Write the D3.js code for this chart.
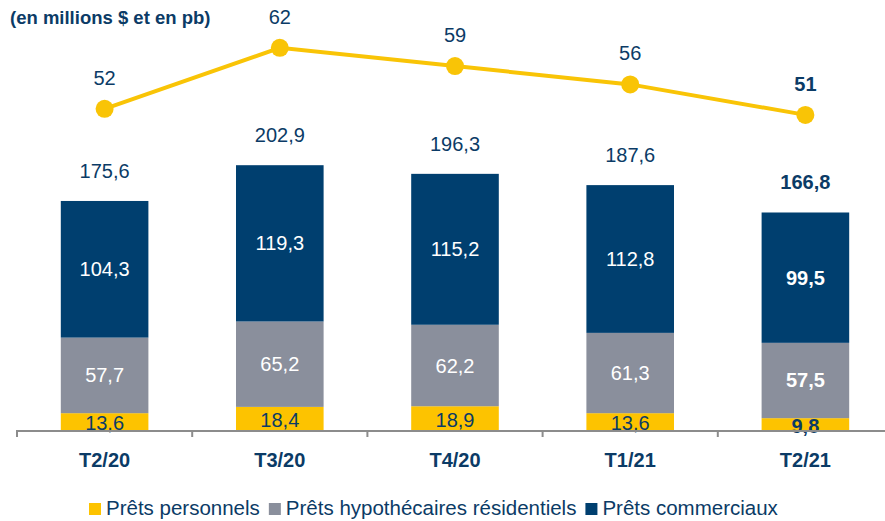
<!DOCTYPE html>
<html>
<head>
<meta charset="utf-8">
<script src="https://cdn.jsdelivr.net/npm/d3@7"></script>
<style>
  body { margin: 0; background: #fff; }
  text { font-family: "Liberation Sans", Arial, sans-serif; }
</style>
</head>
<body>
<svg id="chart" width="885" height="521"></svg>
<script>
// data
const categories = ["T2/20", "T3/20", "T4/20", "T1/21", "T2/21"];
const personnels = [13.6, 18.4, 18.9, 13.6, 9.8];
const hypothecaires = [57.7, 65.2, 62.2, 61.3, 57.5];
const commerciaux = [104.3, 119.3, 115.2, 112.8, 99.5];
const totals = [175.6, 202.9, 196.3, 187.6, 166.8];
const pb = [52, 62, 59, 56, 51];
const seriesNames = ["Prêts personnels", "Prêts hypothécaires résidentiels", "Prêts commerciaux"];

const navy = "#003F6F";
const gray = "#8A8F9C";
const yellow = "#FDC300";
const textCol = "#0B3B66";

const svg = d3.select("#chart");

// X
const x = d3.scaleBand().domain(categories).range([17, 893]).paddingInner(0.5).paddingOuter(0.25);

// Y pour les barres
const y = d3.scaleLinear().domain([0, 210]).range([431, 431 - 210 * 1.31]);
// Y pour la ligne (pb)
const y2 = d3.scaleLinear().domain([0, 70]).range([426, 426 - 70 * 6.1]);

const stackData = categories.map((c, i) => ({
  cat: c, p: personnels[i], h: hypothecaires[i], c2: commerciaux[i]
}));
const stack = d3.stack().keys(["p", "h", "c2"])(stackData);
const colors = [yellow, gray, navy];
const labelCols = [textCol, "#fff", "#fff"];

stack.forEach((layer, k) => {
  svg.append("g").selectAll("rect")
    .data(layer).enter()
    .append("rect")
    .attr("x", d => x(d.data.cat))
    .attr("width", x.bandwidth())
    .attr("y", d => y(d[1]))
    .attr("height", d => y(d[0]) - y(d[1]))
    .attr("fill", colors[k]);

  svg.append("g").selectAll("text")
    .data(layer).enter()
    .append("text")
    .attr("x", d => x(d.data.cat) + x.bandwidth() / 2)
    .attr("y", d => (y(d[0]) + y(d[1])) / 2 + (k == 0 ? 1 : 0))
    .attr("dy", "0.35em")
    .attr("text-anchor", "middle")
    .attr("font-size", 20)
    .attr("font-weight", (d, i) => i == 4 ? "bold" : "normal")
    .attr("fill", labelCols[k])
    .text(d => d3.format(".1f")(d[1] - d[0]).replace(".", ","));
});

// axe
svg.append("line")
  .attr("x1", 16).attr("x2", 885)
  .attr("y1", 431).attr("y2", 431)
  .attr("stroke", "#8C8C8C").attr("stroke-width", 2);
const bounds = categories.map(c => x(c) - x.step() * x.paddingInner() / 2);
svg.append("g").selectAll("line")
  .data(bounds).enter()
  .append("line")
  .attr("x1", d => d).attr("x2", d => d)
  .attr("y1", 431).attr("y2", 437)
  .attr("stroke", "#8C8C8C").attr("stroke-width", 2);

svg.append("g").selectAll("text")
  .data(categories).enter()
  .append("text")
  .attr("x", d => x(d) + x.bandwidth() / 2)
  .attr("y", 467)
  .attr("text-anchor", "middle")
  .attr("font-size", 20)
  .attr("font-weight", "bold")
  .attr("fill", textCol)
  .text(d => d);

// totaux
svg.append("g").selectAll("text")
  .data(totals).enter()
  .append("text")
  .attr("x", (d, i) => x(categories[i]) + x.bandwidth() / 2)
  .attr("y", d => y(d) - 30)
  .attr("dy", "0.35em")
  .attr("text-anchor", "middle")
  .attr("font-size", 20)
  .attr("font-weight", (d, i) => i == 4 ? "bold" : "normal")
  .attr("fill", textCol)
  .text(d => d3.format(".1f")(d).replace(".", ","));

// ligne pb
const line = d3.line()
  .x((d, i) => x(categories[i]) + x.bandwidth() / 2)
  .y(d => y2(d));
svg.append("path")
  .datum(pb)
  .attr("d", line)
  .attr("fill", "none")
  .attr("stroke", "#F9C406")
  .attr("stroke-width", 4);
svg.append("g").selectAll("circle")
  .data(pb).enter()
  .append("circle")
  .attr("cx", (d, i) => x(categories[i]) + x.bandwidth() / 2)
  .attr("cy", d => y2(d))
  .attr("r", 9)
  .attr("fill", "#F9C406");
svg.append("g").selectAll("text")
  .data(pb).enter()
  .append("text")
  .attr("x", (d, i) => x(categories[i]) + x.bandwidth() / 2)
  .attr("y", d => y2(d) - 31)
  .attr("dy", "0.35em")
  .attr("text-anchor", "middle")
  .attr("font-size", 20)
  .attr("font-weight", (d, i) => i == 4 ? "bold" : "normal")
  .attr("fill", textCol)
  .text(d => d);

// titre
svg.append("text")
  .attr("x", 10).attr("y", 24)
  .attr("font-size", 18.5)
  .attr("font-weight", "bold")
  .attr("fill", textCol)
  .text("(en millions $ et en pb)");

// légende
let lx = 89;
seriesNames.forEach((n, i) => {
  svg.append("rect")
    .attr("x", lx).attr("y", 503)
    .attr("width", 12).attr("height", 12)
    .attr("fill", colors[i]);
  const t = svg.append("text")
    .attr("x", lx + 17).attr("y", 515)
    .attr("font-size", 20.5)
    .attr("fill", textCol)
    .text(n);
  lx += 17 + t.node().getComputedTextLength() + 9;
});
</script>
</body>
</html>
